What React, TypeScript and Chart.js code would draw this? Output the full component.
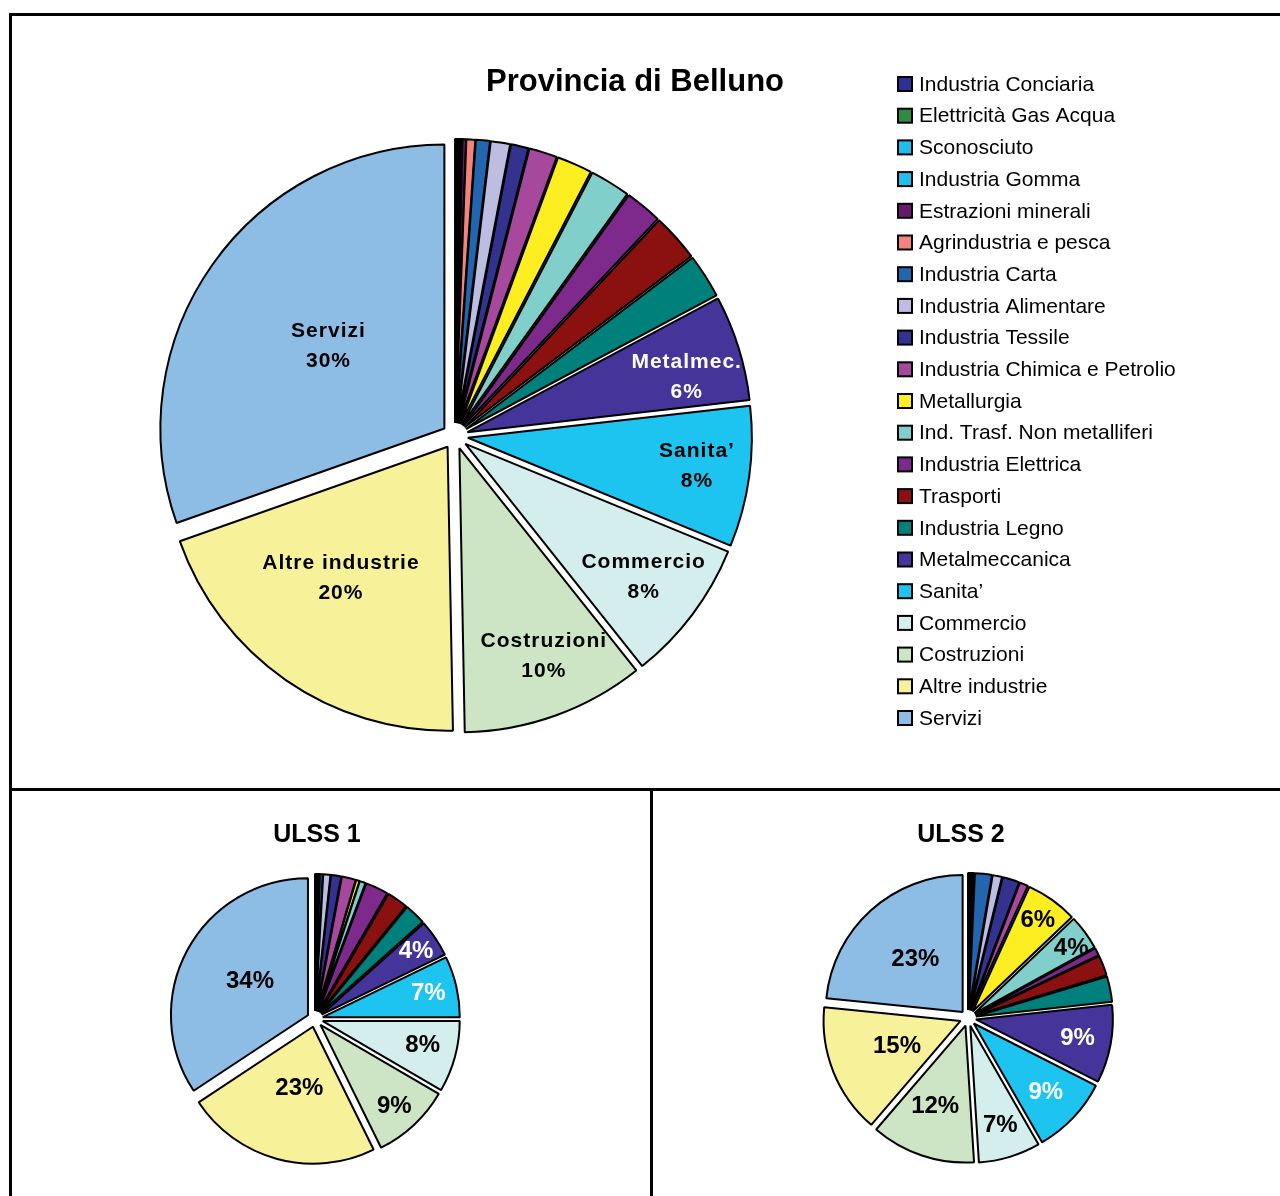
import React, { useEffect, useRef } from 'react';
import { Chart, registerables } from 'chart.js';

Chart.register(...registerables);

// ---------------- DATA ----------------
const categories = [
  'Industria Conciaria',
  'Elettricità Gas Acqua',
  'Sconosciuto',
  'Industria Gomma',
  'Estrazioni minerali',
  'Agrindustria e pesca',
  'Industria Carta',
  'Industria Alimentare',
  'Industria Tessile',
  'Industria Chimica e Petrolio',
  'Metallurgia',
  'Ind. Trasf. Non metalliferi',
  'Industria Elettrica',
  'Trasporti',
  'Industria Legno',
  'Metalmeccanica',
  'Sanita’',
  'Commercio',
  'Costruzioni',
  'Altre industrie',
  'Servizi',
];

// percentage shares
const bellunoValues = [0.1, 0.1, 0.1, 0.1, 0.2, 0.5, 0.8, 1.1, 1.0, 1.6, 2.0, 2.3, 2.1, 2.7, 2.5, 6.0, 8.0, 8.1, 10.4, 19.9, 30.4];
const ulss1Values = [0.05, 0.05, 0.08, 0.05, 0.1, 0.2, 0.35, 0.85, 1.2, 1.65, 0.4, 0.7, 2.7, 2.5, 2.52, 4.4, 7.2, 8.4, 9.3, 23.0, 34.3];
const ulss2Values = [0.1, 0.1, 0.1, 0.1, 0.15, 0.15, 2.0, 1.1, 2.0, 1.0, 6.1, 4.1, 0.9, 2.4, 3.0, 9.2, 9.2, 7.3, 12.3, 15.3, 23.4];

const bellunoTitle = 'Provincia di Belluno';
const ulss1Title = 'ULSS 1';
const ulss2Title = 'ULSS 2';

// short names used inside the big pie
const bigLabelNames: Record<number, string> = {
  15: 'Metalmec.',
  16: 'Sanita’',
  17: 'Commercio',
  18: 'Costruzioni',
  19: 'Altre industrie',
  20: 'Servizi',
};

// ---------------- STYLE ----------------
const sliceColors = [
  '#2E3192', '#2E8B40', '#1EBFEA', '#1EBFEA', '#66196E', '#F4837D', '#2166AE',
  '#BCBDE0', '#33338F', '#A6489B', '#FDEE21', '#80CFCB', '#7E2A8C', '#8B1111',
  '#00807A', '#45359A', '#1CC4EF', '#D4EDED', '#CDE5C5', '#F7F29A', '#8DBDE5',
];

const FONT = '"Liberation Sans", Arial, Helvetica, sans-serif';

type LabelSpec = { idx: number; frac: number; dA?: number; color: string; named?: boolean };

type PieProps = {
  values: number[];
  left: number;
  top: number;
  width: number;
  height: number;
  padding: { left: number; right: number; top: number; bottom: number };
  radius: number;
  explode: number;
  title: { text: string; x: number; y: number; size: number };
  legend?: { x: number; y: number; step: number; box: number; size: number; textX: number };
  labels: LabelSpec[];
  labelSize: number;
  labelSpacing: string;
  lineHeight: number;
};

function PieChart(p: PieProps) {
  const ref = useRef<HTMLCanvasElement | null>(null);
  useEffect(() => {
    if (!ref.current) return;
    const explodePlugin = {
      id: 'explodeSlices',
      afterDatasetsUpdate(chart: any) {
        const meta = chart.getDatasetMeta(0);
        meta.data.forEach((arc: any) => {
          const mid = (arc.startAngle + arc.endAngle) / 2;
          arc.x += Math.cos(mid) * p.explode;
          arc.y += Math.sin(mid) * p.explode;
        });
      },
    };
    const overlayPlugin = {
      id: 'overlayText',
      afterDraw(chart: any) {
        const ctx: CanvasRenderingContext2D = chart.ctx;
        ctx.save();
        // title
        ctx.font = `bold ${p.title.size}px ${FONT}`;
        ctx.fillStyle = '#000';
        ctx.textAlign = 'center';
        ctx.textBaseline = 'middle';
        ctx.fillText(p.title.text, p.title.x, p.title.y);
        // legend
        if (p.legend) {
          const lg = p.legend;
          const labs: string[] = chart.data.labels;
          const cols: string[] = chart.data.datasets[0].backgroundColor;
          ctx.font = `${lg.size}px ${FONT}`;
          ctx.textAlign = 'left';
          labs.forEach((lab, i) => {
            const cy = lg.y + i * lg.step;
            ctx.fillStyle = cols[i];
            ctx.fillRect(lg.x, cy - lg.box / 2, lg.box, lg.box);
            ctx.lineWidth = 2;
            ctx.strokeStyle = '#000';
            ctx.strokeRect(lg.x, cy - lg.box / 2, lg.box, lg.box);
            ctx.fillStyle = '#000';
            ctx.fillText(lab, lg.textX, cy + 1);
          });
        }
        // slice labels
        const meta = chart.getDatasetMeta(0);
        const data: number[] = chart.data.datasets[0].data;
        const total = data.reduce((a, b) => a + b, 0);
        ctx.font = `bold ${p.labelSize}px ${FONT}`;
        (ctx as any).letterSpacing = p.labelSpacing;
        ctx.textAlign = 'center';
        ctx.textBaseline = 'middle';
        p.labels.forEach((s) => {
          const arc = meta.data[s.idx];
          const mid = (arc.startAngle + arc.endAngle) / 2 + ((s.dA || 0) * Math.PI) / 180;
          const rr = arc.outerRadius * s.frac;
          const px = arc.x + Math.cos(mid) * rr;
          const py = arc.y + Math.sin(mid) * rr;
          const pct = Math.round((data[s.idx] / total) * 100) + '%';
          const lines = s.named ? [bigLabelNames[s.idx], pct] : [pct];
          ctx.fillStyle = s.color;
          lines.forEach((t, k) => {
            ctx.fillText(t, px, py + (k - (lines.length - 1) / 2) * p.lineHeight);
          });
        });
        ctx.restore();
      },
    };
    const chart = new Chart(ref.current, {
      type: 'pie',
      data: {
        labels: categories,
        datasets: [
          {
            data: p.values,
            backgroundColor: sliceColors,
            borderColor: '#000000',
            borderWidth: 2,
            radius: p.radius,
          } as any,
        ],
      },
      options: {
        responsive: false,
        animation: false,
        devicePixelRatio: 1,
        events: [],
        layout: { padding: p.padding },
        plugins: {
          legend: { display: false },
          tooltip: { enabled: false },
          title: { display: false },
        },
      } as any,
      plugins: [explodePlugin, overlayPlugin],
    });
    return () => chart.destroy();
  }, []);
  return (
    <canvas
      ref={ref}
      width={p.width}
      height={p.height}
      style={{ position: 'absolute', left: p.left, top: p.top, width: p.width, height: p.height }}
    />
  );
}

const line = (l: number, t: number, w: number, h: number) => (
  <div style={{ position: 'absolute', left: l, top: t, width: w, height: h, background: '#000' }} />
);

export default function App() {
  return (
    <div style={{ position: 'absolute', left: 0, top: 0, width: 1280, height: 1196, background: '#fff', overflow: 'hidden' }}>
      {line(9, 13, 1271, 3)}
      {line(9, 13, 3, 1183)}
      {line(9, 788, 1271, 3)}
      {line(650, 790, 3, 406)}
      <PieChart
        values={bellunoValues}
        left={12}
        top={16}
        width={1246}
        height={772}
        padding={{ left: 0, right: 360, top: 68, bottom: 0 }}
        radius={284}
        explode={13}
        title={{ text: bellunoTitle, x: 623, y: 66, size: 31 }}
        legend={{ x: 886, y: 68, step: 31.7, box: 14, size: 21, textX: 907 }}
        labels={[
          { idx: 20, frac: 0.5, color: '#000', named: true },
          { idx: 19, frac: 0.595, dA: 4.4, color: '#000', named: true },
          { idx: 18, frac: 0.79, dA: -2.3, color: '#000', named: true },
          { idx: 17, frac: 0.785, color: '#000', named: true },
          { idx: 16, frac: 0.813, dA: -0.8, color: '#000', named: true },
          { idx: 15, frac: 0.796, dA: 3.2, color: '#fff', named: true },
        ]}
        labelSize={21}
        labelSpacing="1px"
        lineHeight={30}
      />
      <PieChart
        values={ulss1Values}
        left={12}
        top={792}
        width={638}
        height={404}
        padding={{ left: 0, right: 32, top: 50, bottom: 0 }}
        radius={137}
        explode={8}
        title={{ text: ulss1Title, x: 305, y: 43, size: 25 }}
        labels={[
          { idx: 20, frac: 0.49, dA: 2, color: '#000' },
          { idx: 19, frac: 0.46, dA: -2.7, color: '#000' },
          { idx: 18, frac: 0.8, dA: 0.7, color: '#000' },
          { idx: 17, frac: 0.75, dA: -1.6, color: '#000' },
          { idx: 16, frac: 0.79, color: '#fff' },
          { idx: 15, frac: 0.83, color: '#fff' },
        ]}
        labelSize={24}
        labelSpacing="0px"
        lineHeight={28}
      />
      <PieChart
        values={ulss2Values}
        left={653}
        top={792}
        width={627}
        height={404}
        padding={{ left: 3, right: 0, top: 48, bottom: 0 }}
        radius={137}
        explode={8}
        title={{ text: ulss2Title, x: 308, y: 43, size: 25 }}
        labels={[
          { idx: 20, frac: 0.515, color: '#000' },
          { idx: 19, frac: 0.5, color: '#000' },
          { idx: 18, frac: 0.63, dA: 2, color: '#000' },
          { idx: 17, frac: 0.76, color: '#000' },
          { idx: 16, frac: 0.725, color: '#fff' },
          { idx: 15, frac: 0.755, color: '#fff' },
          { idx: 11, frac: 0.85, dA: 2.3, color: '#000' },
          { idx: 10, frac: 0.82, color: '#000' },
        ]}
        labelSize={24}
        labelSpacing="0px"
        lineHeight={28}
      />
    </div>
  );
}
